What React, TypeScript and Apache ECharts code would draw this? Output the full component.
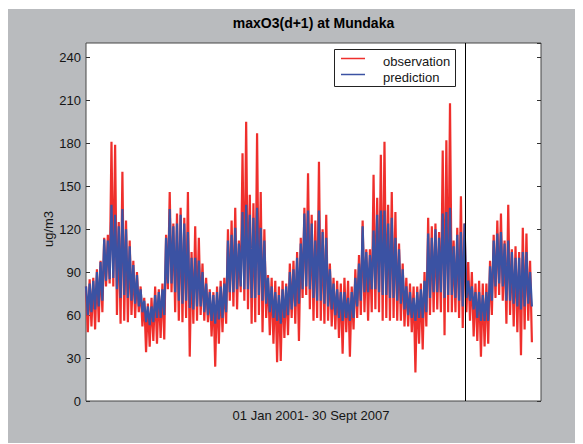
import React, { useEffect, useRef } from "react";
import * as echarts from "echarts";

// Daily max O3 (ug/m3), 01 Jan 2001 - 30 Sept 2007, read as 20-day envelopes (high / low)
const STEP_DAYS = 20;
const X_MAX_DAYS = 2500;
const SPLIT_DAY = 2082;
const Y_MIN = 0;
const Y_MAX = 250;
const Y_INTERVAL = 30;

const obsHi = [
  80, 85, 86, 92, 98, 114, 116, 181, 179, 125, 160, 126, 112, 98, 90, 80, 72, 68, 72, 80,
  78, 82, 116, 146, 124, 131, 135, 128, 146, 104, 122, 114, 96, 86, 78, 76, 80, 84, 86, 120,
  126, 135, 112, 173, 195, 144, 138, 187, 146, 120, 88, 86, 84, 80, 84, 82, 96, 98, 104, 114,
  135, 159, 130, 126, 167, 120, 130, 96, 86, 84, 82, 86, 84, 80, 92, 102, 126, 106, 106, 158,
  142, 172, 181, 137, 146, 132, 110, 96, 86, 82, 80, 80, 82, 90, 128, 122, 124, 118, 175, 182,
  208, 112, 121, 143, 124, 97, 90, 82, 84, 82, 82, 98, 116, 126, 131, 112, 137, 106, 108, 104,
  121, 117, 98,
];
const obsLo = [
  48, 52, 50, 55, 62, 80, 82, 80, 60, 54, 56, 55, 60, 58, 62, 52, 34, 38, 42, 40,
  44, 43, 78, 76, 62, 56, 55, 58, 31, 54, 56, 60, 56, 55, 45, 24, 40, 48, 54, 70,
  66, 64, 76, 70, 64, 54, 55, 60, 48, 58, 46, 40, 27, 28, 44, 46, 58, 54, 42, 72,
  74, 64, 56, 58, 56, 54, 56, 52, 50, 44, 33, 48, 31, 50, 58, 60, 62, 56, 62, 64,
  62, 56, 58, 56, 58, 56, 56, 52, 52, 48, 20, 40, 36, 52, 60, 62, 64, 62, 46, 62,
  62, 62, 58, 51, 62, 56, 45, 42, 31, 38, 40, 60, 72, 74, 70, 54, 60, 52, 48, 32,
  50, 56, 41,
];
const predHi = [
  80, 82, 84, 90, 97, 113, 112, 137, 130, 122, 134, 120, 108, 95, 88, 78, 70, 66, 66, 74,
  76, 78, 114, 134, 122, 124, 130, 124, 118, 100, 100, 98, 90, 82, 76, 74, 76, 80, 82, 112,
  116, 121, 110, 132, 137, 130, 128, 135, 121, 112, 86, 80, 76, 74, 78, 80, 90, 92, 100, 110,
  131, 133, 124, 112, 133, 118, 114, 92, 82, 78, 76, 76, 72, 76, 86, 96, 122, 104, 102, 119,
  130, 133, 133, 124, 128, 114, 106, 92, 80, 76, 72, 76, 78, 84, 117, 114, 120, 114, 131, 132,
  135, 108, 116, 118, 124, 84, 80, 76, 76, 74, 76, 94, 112, 117, 118, 110, 112, 104, 100, 100,
  104, 104, 90,
];
const predLo = [
  60, 62, 64, 66, 70, 84, 85, 86, 78, 72, 74, 72, 70, 68, 66, 62, 55, 53, 55, 58,
  58, 60, 82, 82, 76, 70, 68, 70, 65, 64, 66, 66, 62, 60, 56, 54, 57, 58, 62, 76,
  76, 78, 80, 78, 78, 72, 72, 74, 70, 68, 62, 58, 56, 54, 58, 60, 64, 66, 68, 78,
  80, 78, 72, 70, 70, 68, 66, 64, 60, 58, 56, 58, 56, 58, 66, 70, 76, 76, 78, 78,
  76, 74, 74, 72, 72, 70, 68, 64, 60, 58, 56, 58, 58, 62, 72, 76, 76, 76, 72, 74,
  74, 72, 70, 66, 72, 70, 64, 58, 56, 56, 56, 70, 80, 82, 80, 70, 70, 68, 66, 64,
  66, 68, 66,
];

const TITLE = "maxO3(d+1) at Mundaka";
const Y_NAME = "ug/m3";
const X_NAME = "01 Jan 2001- 30 Sept 2007";
const LEGEND = ["observation", "prediction"];

const RED = "#ef2f2c";
const BLUE = "#3b52a3";
const FONT = "'Liberation Sans', Arial, Helvetica, sans-serif";

function envelope(hi: number[], lo: number[]) {
  const out: [number, number][] = [];
  hi.forEach((v, i) => {
    out.push([i * STEP_DAYS, v]);
    out.push([i * STEP_DAYS + STEP_DAYS / 2, lo[i]]);
  });
  return out;
}

export default function App() {
  const ref = useRef<HTMLDivElement>(null);
  useEffect(() => {
    if (!ref.current) return;
    const chart = echarts.init(ref.current, null, { renderer: "svg" });
    const gl = 78, gt = 34, gw = 455, gh = 358;
    chart.setOption({
      animation: false,
      backgroundColor: "#b9bbbe",
      textStyle: { fontFamily: FONT },
      grid: {
        left: gl, top: gt, width: gw, height: gh,
        show: true, backgroundColor: "#ffffff", borderColor: "#474747", borderWidth: 1,
      },
      xAxis: {
        type: "value", min: 0, max: X_MAX_DAYS,
        axisLine: { show: false }, axisTick: { show: false },
        axisLabel: { show: false }, splitLine: { show: false },
      },
      yAxis: [
        {
          type: "value", min: Y_MIN, max: Y_MAX, interval: Y_INTERVAL, position: "left",
          axisLine: { show: false },
          axisTick: { show: true, inside: true, length: 4, lineStyle: { color: "#333" } },
          axisLabel: { show: true, margin: 5, fontSize: 13, color: "#151515", fontFamily: FONT, showMaxLabel: false },
          splitLine: { show: false },
        },
        {
          type: "value", min: Y_MIN, max: Y_MAX, interval: Y_INTERVAL, position: "right",
          axisLine: { show: false },
          axisTick: { show: true, inside: true, length: 4, lineStyle: { color: "#333" } },
          axisLabel: { show: false }, splitLine: { show: false },
        },
      ],
      series: [
        {
          name: LEGEND[0], type: "line", yAxisIndex: 0, showSymbol: false, symbol: "none",
          data: envelope(obsHi, obsLo),
          lineStyle: { color: RED, width: 2.2, join: "miter" },
          markLine: {
            silent: true, symbol: "none", label: { show: false },
            lineStyle: { color: "#000", width: 1, type: "solid" },
            data: [{ xAxis: SPLIT_DAY }],
          },
        },
        {
          name: LEGEND[1], type: "line", yAxisIndex: 0, showSymbol: false, symbol: "none",
          data: envelope(predHi, predLo),
          lineStyle: { color: BLUE, width: 2.2, join: "miter" },
        },
      ],
      graphic: [
        {
          type: "text", x: 305.5, y: 14,
          style: { text: TITLE, font: `bold 14px ${FONT}`, fill: "#000", textAlign: "center", textVerticalAlign: "middle" },
        },
        {
          type: "text", x: 40, y: 220, rotation: Math.PI / 2,
          style: { text: Y_NAME, font: `13px ${FONT}`, fill: "#151515", textAlign: "center", textVerticalAlign: "middle" },
        },
        {
          type: "text", x: 303, y: 406,
          style: { text: X_NAME, font: `13px ${FONT}`, fill: "#151515", textAlign: "center", textVerticalAlign: "middle" },
        },
        {
          type: "rect", shape: { x: 326.5, y: 40.5, width: 121, height: 37 },
          style: { fill: "#fff", stroke: "#222", lineWidth: 1 }, z: 100,
        },
        { type: "line", shape: { x1: 333, y1: 49.5, x2: 357, y2: 49.5 }, style: { stroke: RED, lineWidth: 1.5 }, z: 101 },
        { type: "line", shape: { x1: 333, y1: 65.5, x2: 357, y2: 65.5 }, style: { stroke: BLUE, lineWidth: 1.5 }, z: 101 },
        {
          type: "text", x: 375, y: 52, z: 101,
          style: { text: LEGEND[0], font: `13px ${FONT}`, fill: "#151515", textAlign: "left", textVerticalAlign: "middle" },
        },
        {
          type: "text", x: 375, y: 68, z: 101,
          style: { text: LEGEND[1], font: `13px ${FONT}`, fill: "#151515", textAlign: "left", textVerticalAlign: "middle" },
        },
      ],
    });
    return () => chart.dispose();
  }, []);
  return <div ref={ref} style={{ width: 575, height: 435, position: "relative", top: 1 }} />;
}
